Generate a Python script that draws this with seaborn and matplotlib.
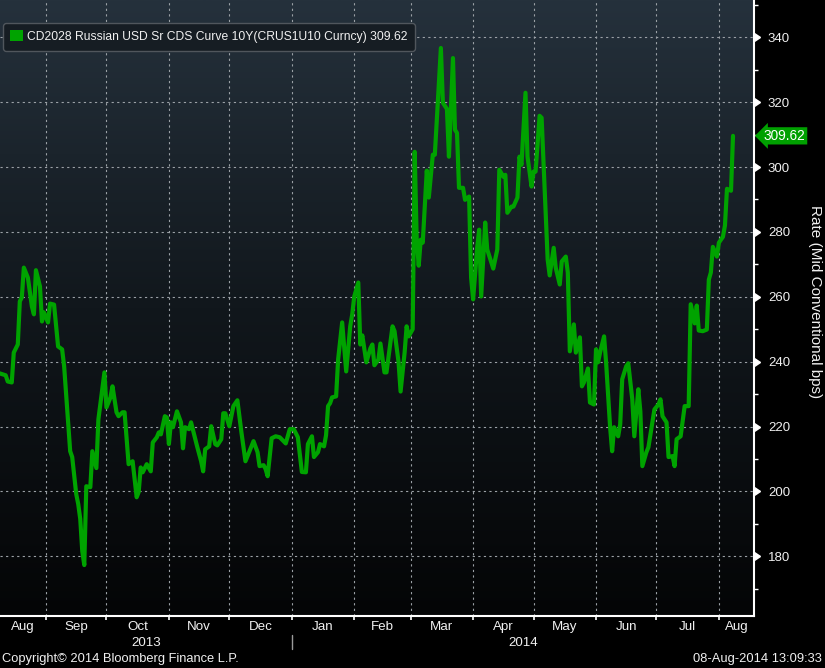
import numpy as np
import pandas as pd
import matplotlib
matplotlib.use("Agg")
import matplotlib.pyplot as plt
import matplotlib.dates as mdates
import matplotlib.markers as mmarkers
from matplotlib.colors import LinearSegmentedColormap
from matplotlib.patches import Patch
from matplotlib.lines import Line2D
import matplotlib.transforms as mtransforms
import seaborn as sns

# ---------------- data ----------------
dates = [
    "2013-08-09", "2013-08-12", "2013-08-13", "2013-08-15", "2013-08-16", "2013-08-18",
    "2013-08-19", "2013-08-20", "2013-08-21", "2013-08-23", "2013-08-25", "2013-08-26",
    "2013-08-27", "2013-08-29", "2013-08-30", "2013-08-31", "2013-09-02", "2013-09-03",
    "2013-09-05", "2013-09-07", "2013-09-09", "2013-09-10", "2013-09-13", "2013-09-14",
    "2013-09-16", "2013-09-17", "2013-09-18", "2013-09-19", "2013-09-20", "2013-09-21",
    "2013-09-23", "2013-09-24", "2013-09-26", "2013-09-27", "2013-09-30", "2013-10-01",
    "2013-10-03", "2013-10-04", "2013-10-06", "2013-10-07", "2013-10-09", "2013-10-10",
    "2013-10-12", "2013-10-14", "2013-10-16", "2013-10-17", "2013-10-18", "2013-10-19",
    "2013-10-21", "2013-10-23", "2013-10-24", "2013-10-26", "2013-10-27", "2013-10-28",
    "2013-10-30", "2013-10-31", "2013-11-01", "2013-11-02", "2013-11-03", "2013-11-05",
    "2013-11-07", "2013-11-08", "2013-11-09", "2013-11-11", "2013-11-12", "2013-11-15",
    "2013-11-17", "2013-11-18", "2013-11-19", "2013-11-21", "2013-11-22", "2013-11-24",
    "2013-11-25", "2013-11-27", "2013-11-28", "2013-11-29", "2013-12-01", "2013-12-03",
    "2013-12-05", "2013-12-07", "2013-12-09", "2013-12-11", "2013-12-13", "2013-12-15",
    "2013-12-16", "2013-12-18", "2013-12-19", "2013-12-20", "2013-12-22", "2013-12-24",
    "2013-12-26", "2013-12-29", "2013-12-31", "2014-01-02", "2014-01-04", "2014-01-06",
    "2014-01-08", "2014-01-09", "2014-01-11", "2014-01-12", "2014-01-14", "2014-01-15",
    "2014-01-17", "2014-01-18", "2014-01-19", "2014-01-20", "2014-01-21", "2014-01-23",
    "2014-01-24", "2014-01-26", "2014-01-27", "2014-01-28", "2014-01-30", "2014-01-31",
    "2014-02-01", "2014-02-03", "2014-02-04", "2014-02-05", "2014-02-07", "2014-02-09",
    "2014-02-10", "2014-02-11", "2014-02-13", "2014-02-14", "2014-02-16", "2014-02-17",
    "2014-02-20", "2014-02-21", "2014-02-23", "2014-02-24", "2014-02-26", "2014-02-27",
    "2014-02-28", "2014-03-02", "2014-03-03", "2014-03-04", "2014-03-05", "2014-03-06",
    "2014-03-07", "2014-03-09", "2014-03-10", "2014-03-12", "2014-03-13", "2014-03-16",
    "2014-03-17", "2014-03-19", "2014-03-20", "2014-03-22", "2014-03-23", "2014-03-24",
    "2014-03-25", "2014-03-27", "2014-03-28", "2014-03-30", "2014-03-31", "2014-04-01",
    "2014-04-03", "2014-04-04", "2014-04-05", "2014-04-07", "2014-04-08", "2014-04-11",
    "2014-04-13", "2014-04-14", "2014-04-16", "2014-04-17", "2014-04-18", "2014-04-20",
    "2014-04-21", "2014-04-23", "2014-04-24", "2014-04-25", "2014-04-27", "2014-04-28",
    "2014-04-30", "2014-05-01", "2014-05-02", "2014-05-04", "2014-05-05", "2014-05-08",
    "2014-05-09", "2014-05-11", "2014-05-12", "2014-05-14", "2014-05-15", "2014-05-17",
    "2014-05-18", "2014-05-19", "2014-05-21", "2014-05-22", "2014-05-24", "2014-05-25",
    "2014-05-26", "2014-05-28", "2014-05-29", "2014-05-31", "2014-06-01", "2014-06-02",
    "2014-06-03", "2014-06-05", "2014-06-06", "2014-06-08", "2014-06-09", "2014-06-10",
    "2014-06-12", "2014-06-13", "2014-06-14", "2014-06-16", "2014-06-17", "2014-06-19",
    "2014-06-20", "2014-06-22", "2014-06-23", "2014-06-24", "2014-06-26", "2014-06-27",
    "2014-06-30", "2014-07-02", "2014-07-03", "2014-07-04", "2014-07-06", "2014-07-07",
    "2014-07-09", "2014-07-10", "2014-07-11", "2014-07-13", "2014-07-15", "2014-07-17",
    "2014-07-18", "2014-07-20", "2014-07-21", "2014-07-22", "2014-07-24", "2014-07-26",
    "2014-07-27", "2014-07-28", "2014-07-29", "2014-07-31", "2014-08-01", "2014-08-03",
    "2014-08-04", "2014-08-05", "2014-08-07", "2014-08-08",
]
cds_bps = [
    236.4, 235.8, 233.9, 233.6, 242.8, 245.3,
    258.6, 259.8, 269.0, 265.9, 257.0, 254.6,
    268.2, 263.2, 252.4, 255.2, 252.1, 257.9,
    257.6, 244.7, 243.8, 238.6, 212.4, 210.6,
    199.2, 196.1, 191.5, 181.6, 177.3, 201.6,
    201.3, 212.4, 207.2, 222.2, 236.7, 225.9,
    229.0, 232.4, 224.4, 223.2, 224.4, 224.4,
    208.4, 209.3, 198.2, 199.8, 207.4, 205.9,
    208.4, 206.2, 215.1, 216.7, 218.2, 217.6,
    223.2, 222.8, 214.6, 221.3, 219.8, 224.7,
    221.3, 213.3, 219.8, 219.2, 221.3, 213.9,
    209.3, 206.2, 213.0, 213.9, 220.1, 214.6,
    214.2, 216.1, 224.1, 224.1, 220.1, 226.3,
    228.1, 218.2, 209.3, 212.4, 215.5, 212.1,
    207.8, 208.1, 206.9, 204.7, 216.4, 217.0,
    216.7, 214.8, 219.2, 219.2, 216.7, 206.0,
    205.9, 214.6, 217.0, 210.6, 212.1, 214.6,
    213.9, 217.3, 226.3, 227.2, 229.0, 229.3,
    240.7, 252.1, 244.7, 237.0, 250.9, 254.6,
    260.1, 264.4, 245.3, 248.1, 239.8, 244.1,
    245.3, 238.9, 240.7, 245.6, 236.7, 236.7,
    250.9, 249.4, 239.8, 230.8, 242.8, 250.9,
    247.8, 250.0, 304.7, 277.6, 269.6, 277.6,
    276.7, 298.9, 290.6, 303.8, 303.8, 336.7,
    319.8, 317.9, 303.2, 333.6, 311.5, 310.5,
    293.6, 293.6, 289.9, 290.9, 265.9, 259.2,
    275.1, 280.7, 260.1, 282.9, 274.6, 268.7,
    274.6, 299.2, 297.0, 297.6, 285.9, 287.8,
    287.8, 290.6, 303.2, 300.7, 322.9, 303.2,
    294.0, 298.6, 298.6, 315.8, 315.2, 271.5,
    266.6, 275.1, 269.0, 263.8, 270.9, 272.4,
    267.5, 243.2, 251.5, 242.8, 247.5, 232.4,
    233.6, 237.9, 227.4, 226.8, 243.8, 239.8,
    242.8, 247.8, 239.8, 219.8, 212.4, 219.8,
    217.0, 220.7, 234.6, 238.6, 239.5, 228.4,
    217.0, 231.5, 224.7, 207.8, 212.1, 213.6,
    225.3, 226.8, 228.4, 223.2, 221.3, 210.6,
    210.9, 207.8, 216.1, 217.0, 226.3, 226.3,
    257.7, 251.8, 257.3, 249.6, 249.4, 249.9,
    265.3, 267.5, 275.4, 272.4, 276.7, 278.5,
    282.0, 293.3, 292.7, 309.62,
]
series_label = "CD2028 Russian USD Sr CDS Curve 10Y(CRUS1U10 Curncy) 309.62"
last_value = 309.62
y_label = "Rate (Mid Conventional bps)"
year_labels = ["2013", "2014"]
footer_left = "Copyright\u00a9 2014 Bloomberg Finance L.P."
footer_right = "08-Aug-2014 13:09:33"

# ---------------- style ----------------
sns.set_theme(style="dark")
plt.rcParams["font.family"] = ["Liberation Sans", "DejaVu Sans"]
NARROW = ["Liberation Sans Narrow", "Liberation Sans", "DejaVu Sans"]
GREEN = "#00a300"
TXT = "#f0f0f0"

W, H = 825, 668
fig = plt.figure(figsize=(W / 100, H / 100), dpi=100, facecolor="black")
pos = [0, 52 / H, 754 / W, 616 / H]

# gradient background panel
bg = fig.add_axes(pos, zorder=0)
cmap = LinearSegmentedColormap.from_list("bb", ["#040506", "#11171c", "#25313c"])
bg.imshow(np.linspace(0, 1, 256).reshape(-1, 1), cmap=cmap, aspect="auto",
          origin="lower", extent=(0, 1, 0, 1))
bg.set_axis_off()

ax = fig.add_axes(pos, zorder=1)
ax.patch.set_alpha(0)

df = pd.DataFrame({"date": pd.to_datetime(dates), "value": cds_bps})
sns.lineplot(data=df, x="date", y="value", ax=ax, color=GREEN, lw=3.0,
             zorder=3, legend=False)

xmin = pd.Timestamp("2013-08-09 04:00")
xmax = pd.Timestamp("2014-08-18 10:00")
ax.set_xlim(mdates.date2num(xmin), mdates.date2num(xmax))
ax.set_ylim(161.6, 351.5)

# x axis: month boundaries as major ticks, labels centred in visible month span
month_starts = pd.date_range("2013-08-01", "2014-09-01", freq="MS")
major = [m for m in month_starts if xmin < m < xmax]
ax.set_xticks(mdates.date2num(major))
ax.set_xticklabels([""] * len(major))
centers, mlabels = [], []
for a, b in zip(month_starts[:-1], month_starts[1:]):
    lo, hi = max(a, xmin), min(b, xmax)
    if hi > lo:
        centers.append(mdates.date2num(lo + (hi - lo) / 2))
        mlabels.append(a.strftime("%b"))
ax.set_xticks(centers, minor=True)
ax.set_xticklabels(mlabels, minor=True, fontfamily=NARROW, fontsize=9.6, color=TXT)
ax.tick_params(axis="x", which="major", direction="out", length=3, width=1.2,
               color="white", bottom=True)
ax.tick_params(axis="x", which="minor", length=0, pad=3.5, bottom=True)

# y axis on the right
ax.yaxis.tick_right()
ax.set_yticks(np.arange(180, 341, 20))
ax.set_yticks(np.arange(170, 351, 10), minor=True)
ax.tick_params(axis="y", which="major", right=True, left=False, length=5,
               width=1, color="white", labelcolor=TXT, labelsize=9.5, pad=5)
ax.tick_params(axis="y", which="minor", right=True, left=False, length=3,
               width=1, color="white")
for t in ax.yaxis.get_major_ticks():
    t.tick2line.set_marker(mmarkers.CARETRIGHTBASE)
    t.tick2line.set_markersize(6)
    t.tick2line.set_markerfacecolor("white")
    t.tick2line.set_markeredgecolor("white")

ax.set_ylabel(y_label, rotation=270, color=TXT, fontsize=11)
ax.yaxis.set_label_position("right")
ax.yaxis.set_label_coords(815 / 754, 0.51)
ax.yaxis.label.set_va("center")
ax.set_xlabel("")

# grid
grid_kw = dict(color="#9ba1a6", lw=0.8, ls=(0, (2, 3)))
ax.grid(True, which="major", axis="both", **grid_kw)
ax.grid(False, which="minor")

for s in ["left", "top"]:
    ax.spines[s].set_visible(False)
for s in ["right", "bottom"]:
    ax.spines[s].set_visible(True)
    ax.spines[s].set_color("white")
    ax.spines[s].set_linewidth(1.5)

# year labels + separator
xt = ax.get_xaxis_transform()
years = [(pd.Timestamp("2013-01-01"), pd.Timestamp("2014-01-01")),
         (pd.Timestamp("2014-01-01"), pd.Timestamp("2015-01-01"))]
for (a, b), lab in zip(years, year_labels):
    lo, hi = max(a, xmin), min(b, xmax)
    ax.text(mdates.date2num(lo + (hi - lo) / 2), -27 / 616, lab, transform=xt,
            ha="center", va="center", fontfamily=NARROW, fontsize=9.6, color=TXT)
sep_x = mdates.date2num(pd.Timestamp("2014-01-01"))
ax.add_line(Line2D([sep_x, sep_x], [-19 / 616, -33 / 616], transform=xt,
                   color="#9a9a9a", lw=1, clip_on=False))

# legend
handle = Patch(facecolor=GREEN, edgecolor="none")
leg = ax.legend([handle], [series_label], loc="upper left",
                bbox_to_anchor=(3 / 754, 1 - 23 / 616), bbox_transform=ax.transAxes,
                frameon=True, fancybox=True, facecolor="#161d23",
                edgecolor="#50565c", framealpha=1, borderpad=0.62,
                handlelength=1.0, handleheight=0.95, handletextpad=0.33,
                fontsize=8.7, labelcolor=TXT, borderaxespad=0)
leg.get_frame().set_linewidth(1.0)
leg.get_frame().set_boxstyle("round,pad=0.02,rounding_size=0.25")
leg.set_zorder(5)

# last value tag
yt = mtransforms.blended_transform_factory(ax.transAxes, ax.transData)
ax.text(1 + 10 / 754, last_value, f"{last_value:.2f}", transform=yt,
        ha="left", va="center", color="white", fontsize=9.8, clip_on=False,
        bbox=dict(boxstyle="larrow,pad=0.12", fc="#00a000", ec="none"))

# footer
fig.text(2 / W, 1 - 659 / H, footer_left, ha="left", va="center",
         fontfamily=NARROW, fontsize=9.3, color=TXT)
fig.text(822 / W, 1 - 659 / H, footer_right, ha="right", va="center",
         fontfamily=NARROW, fontsize=9.3, color=TXT)

fig.savefig("out.png", dpi=100, facecolor="black")
